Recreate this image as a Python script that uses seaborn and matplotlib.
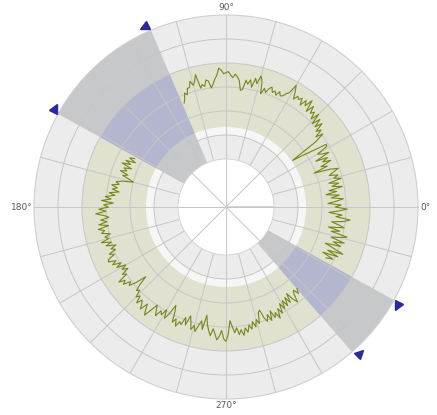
import numpy as np
import matplotlib
matplotlib.use("Agg")
import matplotlib.pyplot as plt
import seaborn as sns
from matplotlib.markers import MarkerStyle
from matplotlib.transforms import Affine2D

# ---------------- data ----------------
# segment 1: angles -27 .. 112 deg (1 deg step)
seg1_start_deg = -27
seg1_r = [
    4.67, 4.95, 4.45, 5.10, 4.60, 5.25, 4.80, 4.40, 5.05, 4.70,
    5.15, 4.55, 4.90, 5.20, 4.50, 4.85, 4.35, 5.00, 4.75, 4.45,
    4.95, 5.20, 4.60, 4.85, 4.30, 4.70, 5.05, 4.55, 4.80, 4.25,
    4.60, 4.90, 4.40, 4.75, 4.20, 4.65, 4.35, 4.92, 4.50, 4.80,
    4.40, 4.94, 4.65, 4.85, 4.50, 4.69, 4.95, 4.60, 3.93, 4.55,
    4.30, 4.78, 4.45, 4.70, 4.20, 4.85, 4.55, 4.40, 4.90, 4.93,
    4.30, 3.80, 3.39, 4.60, 5.05, 4.75, 5.10, 4.90, 5.30, 5.00,
    5.35, 5.00, 5.45, 5.10, 5.40, 5.25, 5.55, 5.20, 5.70, 5.35,
    5.55, 5.25, 5.53, 5.40, 5.50, 5.30, 5.60, 5.85, 5.45, 5.35,
    5.20, 5.15, 5.30, 5.10, 5.25, 5.15, 5.35, 5.25, 5.05, 5.20,
    4.93, 5.45, 5.65, 5.30, 5.50, 5.10, 5.40, 5.20, 5.35, 4.95,
    4.90, 5.30, 5.45, 5.55, 5.40, 5.50, 5.64, 5.60, 5.55, 5.70,
    5.79, 5.50, 5.35, 5.15, 5.00, 5.30, 5.36, 5.10, 5.20, 5.06,
    5.66, 5.40, 5.25, 5.45, 5.20, 5.20, 4.95, 5.05, 4.80, 4.66,
]
# segment 2: angles 152 .. 311 deg (1 deg step)
seg2_start_deg = 152
seg2_r = [
    4.30, 4.50, 4.20, 4.60, 4.35, 4.70, 4.25, 4.55, 4.40, 4.65,
    4.30, 4.50, 4.20, 4.00, 4.45, 4.70, 4.55, 4.85, 4.60, 4.79,
    4.50, 4.90, 4.65, 5.05, 4.80, 5.20, 4.70, 5.10, 4.90, 5.30,
    5.00, 5.44, 5.10, 4.90, 5.25, 5.00, 5.35, 4.95, 5.40, 5.15,
    5.30, 4.95, 5.20, 5.05, 5.40, 5.00, 5.25, 4.85, 5.10, 4.93,
    5.25, 5.05, 5.35, 5.41, 5.10, 5.30, 4.95, 5.20, 4.82, 5.05,
    4.82, 5.15, 5.00, 5.45, 5.20, 5.35, 5.05, 5.19, 4.90, 4.43,
    4.82, 5.10, 5.00, 5.30, 5.15, 5.46, 5.22, 5.35, 5.55, 5.20,
    5.45, 5.64, 5.30, 4.99, 5.20, 5.40, 5.10, 5.24, 4.95, 5.30,
    5.05, 4.60, 4.85, 5.30, 5.10, 5.40, 5.15, 5.25, 4.90, 5.20,
    4.77, 5.00, 5.31, 5.10, 5.35, 5.05, 4.85, 5.20, 4.58, 4.95,
    5.20, 5.40, 5.10, 5.30, 5.55, 5.40, 5.15, 5.50, 5.60, 5.30,
    4.74, 5.00, 5.25, 5.05, 5.35, 5.15, 5.40, 5.10, 5.30, 5.01,
    5.20, 4.90, 5.15, 4.85, 5.05, 4.60, 4.52, 4.90, 5.07, 4.80,
    5.10, 4.70, 5.04, 4.85, 5.15, 4.75, 5.00, 4.60, 4.90, 4.55,
    4.85, 4.50, 4.80, 4.40, 4.75, 4.95, 4.60, 4.46, 4.70, 4.50,
]

# shaded sectors (deg)
sector_start_deg = [113, 311]
sector_end_deg = [151, 331]

# radial structure
r_hole = 2.0
r_max = 8.0
white_ring = (3.0, 3.34)
band = (3.34, 6.0)
r_grid = [3, 4, 5, 6, 7]

tick_deg = [0, 90, 180, 270]
tick_text = ["0°", "90°", "180°", "270°"]

# ---------------- styling ----------------
c_bg = "#ececec"
c_white_ring = "#f6f6f5"
c_band = "#e1e1cf"
c_sector = "#c7c8c9"
c_sector_band = "#b4b6cf"
c_grid = "#c6c6c6"
c_line = "#76871a"
c_marker = "#2a2a9e"

sns.set_theme(style="white")
plt.rcParams["font.family"] = ["DejaVu Sans"]

fig = plt.figure(figsize=(4.37, 4.15), dpi=100)
fig.patch.set_facecolor("white")
ax = fig.add_axes([34 / 437, 16 / 415, 384 / 437, 384 / 415], projection="polar")
ax.set_facecolor(c_bg)
ax.set_theta_zero_location("E")
ax.set_ylim(0, r_max)

full = 2 * np.pi
ax.bar(0, white_ring[1] - white_ring[0], width=full, bottom=white_ring[0],
       color=c_white_ring, edgecolor="none", align="edge", zorder=0.5)
ax.bar(0, band[1] - band[0], width=full, bottom=band[0],
       color=c_band, edgecolor="none", align="edge", zorder=0.5)

for s, e in zip(sector_start_deg, sector_end_deg):
    ax.bar(np.deg2rad(s), r_max - r_hole, width=np.deg2rad(e - s), bottom=r_hole,
           color=c_sector, edgecolor="none", align="edge", zorder=0.6)
    ax.bar(np.deg2rad(s), band[1] - band[0], width=np.deg2rad(e - s), bottom=band[0],
           color=c_sector_band, edgecolor="none", align="edge", zorder=0.7)

# grid
ax.set_axisbelow("line")
ax.set_yticks(r_grid)
ax.set_yticklabels([])
xt = np.arange(0, 360, 15)
ax.set_xticks(np.deg2rad(xt))
ax.set_xticklabels([])
ax.grid(True, color=c_grid, lw=0.7)
ax.spines["polar"].set_color("#cfcfcf")
ax.spines["polar"].set_linewidth(0.8)

# angle labels
label_pos = {0: (8.08, "left", "center"), 90: (8.3, "center", "center"),
             180: (8.06, "right", "center"), 270: (8.28, "center", "center")}
for d, t in zip(tick_deg, tick_text):
    r, ha, va = label_pos[d]
    ax.text(np.deg2rad(d), r, t, ha=ha, va=va, fontsize=6.5, color="#5a5a66",
            clip_on=False)

# hole
ax.bar(0, r_hole, width=full, bottom=0, color="white", edgecolor="#d0d0d0",
       lw=0.6, align="edge", zorder=1.6)
ax.vlines(np.deg2rad(np.arange(0, 360, 45)), 0, r_hole, color=c_grid, lw=0.7, zorder=1.7)

# data lines
th1 = np.deg2rad(seg1_start_deg + np.arange(len(seg1_r)))
th2 = np.deg2rad(seg2_start_deg + np.arange(len(seg2_r)))
sns.lineplot(x=th1, y=seg1_r, ax=ax, color=c_line, lw=0.8, sort=False,
             estimator=None, zorder=3)
sns.lineplot(x=th2, y=seg2_r, ax=ax, color=c_line, lw=0.8, sort=False,
             estimator=None, zorder=3)

# sector markers
for s, e in zip(sector_start_deg, sector_end_deg):
    for ang, direc in ((s + 1.5, s + 90), (e - 1.0, e - 90)):
        m = MarkerStyle("^", transform=Affine2D().rotate_deg(direc - 90))
        ax.plot(np.deg2rad(ang), r_max + 0.25, marker=m, ms=6.5, color=c_marker,
                ls="none", clip_on=False, zorder=4)

ax.set_xlabel("")
ax.set_ylabel("")
fig.savefig("out.png", dpi=100)
